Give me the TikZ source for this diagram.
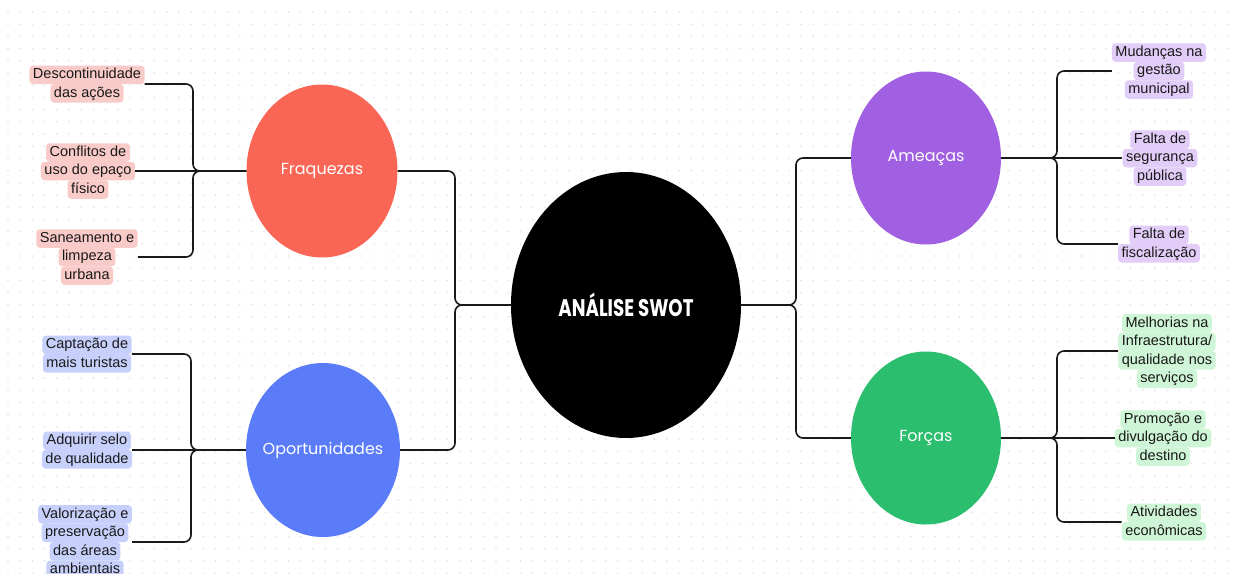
\documentclass[tikz,border=0pt]{standalone}
\usepackage{fontspec}
\setmainfont{Liberation Sans}
\newfontfamily\geofont{Poppins}
\usepackage{graphicx}
\usetikzlibrary{shapes.geometric}
\definecolor{fraqc}{HTML}{F96656}
\definecolor{oporc}{HTML}{5B7CF9}
\definecolor{ameac}{HTML}{A15FE1}
\definecolor{forcc}{HTML}{2CBE6F}
\definecolor{fraql}{HTML}{F9CBC8}
\definecolor{oporl}{HTML}{C6D0FB}
\definecolor{ameal}{HTML}{E2CDF8}
\definecolor{forcl}{HTML}{CFF5D7}
\definecolor{dotc}{HTML}{E2E2E2}
\newcommand{\hl}[1]{\tikz[baseline=(hl.base)]\node[fill=\hlcol,rounded corners=3.5pt,inner xsep=3.5pt,inner ysep=0pt,text height=13pt,text depth=5.5pt](hl){#1};}
\tikzset{
  ell/.style={ellipse,inner sep=0pt,text=white,font=\geofont\fontsize{16}{19}\selectfont},
  leaf/.style={inner sep=0pt,align=center,text=black!90,font=\fontsize{14.5}{18.5}\selectfont,execute at begin node=\def\hlcol{#1}},
  link/.style={line width=1.6pt,black!90,rounded corners=7pt},
  dots/.style={dotc,line width=1.8pt,line cap=round,dash pattern=on 0pt off 12.2pt},
}
\begin{document}
\begin{tikzpicture}[x=1pt,y=-1pt]
  \useasboundingbox (0,0) rectangle (1234,573);
  \fill[white] (0,0) rectangle (1234,573);
  % dotted canvas
  \foreach \r in {0,...,46}{
     \draw[dots] (8,12+\r*12.2) -- (1234,12+\r*12.2);}
  % centre
  \node[ell,fill=black,minimum width=230pt,minimum height=266pt,font=\geofont\bfseries\fontsize{24}{28}\selectfont] (core) at (626,305){\scalebox{0.76}[1]{ANÁLISE SWOT}};
  % quadrants
  \node[ell,fill=fraqc,minimum width=151pt,minimum height=173pt] (fraq) at (322,171){\makebox[0pt]{Fraquezas}};
  \node[ell,fill=oporc,minimum width=154pt,minimum height=174pt] (opor) at (323,450){\makebox[0pt]{Oportunidades}};
  \node[ell,fill=ameac,minimum width=150pt,minimum height=173pt] (amea) at (926,158){\makebox[0pt]{Ameaças}};
  \node[ell,fill=forcc,minimum width=150pt,minimum height=173pt] (forc) at (926,438){\makebox[0pt]{Forças}};
  \coordinate (jl) at (455,305); \coordinate (jr) at (796,305);
  \draw[link] (core.west) -- (jl) |- (fraq.east); \draw[link] (core.west) -- (jl) |- (opor.east);
  \draw[link] (core.east) -- (jr) |- (amea.west); \draw[link] (core.east) -- (jr) |- (forc.west);
  % fraquezas
  \node[leaf=fraql] (w1) at (87,84){\hl{Descontinuidade}\\\hl{das ações}};
  \node[leaf=fraql] (w2) at (88,171){\hl{Conflitos de}\\\hl{uso do epaço}\\\hl{físico}};
  \node[leaf=fraql] (w3) at (87,257){\hl{Saneamento e}\\\hl{limpeza}\\\hl{urbana}};
  \coordinate (jw) at (193,171);
  \draw[link] (fraq.west) -- (jw) |- (w1.east); \draw[link] (fraq.west) -- (w2.east);
  \draw[link] (fraq.west) -- (jw) |- (w3.east);
  % oportunidades
  \node[leaf=oporl] (o1) at (87,354){\hl{Captação de}\\\hl{mais turistas}};
  \node[leaf=oporl] (o2) at (87,450){\hl{Adquirir selo}\\\hl{de qualidade}};
  \node[leaf=oporl] (o3) at (85,542){\hl{Valorização e}\\\hl{preservação}\\\hl{das áreas}\\\hl{ambientais}};
  \coordinate (jo) at (191,450);
  \draw[link] (opor.west) -- (jo) |- (o1.east); \draw[link] (opor.west) -- (o2.east);
  \draw[link] (opor.west) -- (jo) |- (o3.east);
  % ameacas
  \node[leaf=ameal] (t1) at (1159,71){\hl{Mudanças na}\\\hl{gestão}\\\hl{municipal}};
  \node[leaf=ameal] (t2) at (1160,158){\hl{Falta de}\\\hl{segurança}\\\hl{pública}};
  \node[leaf=ameal] (t3) at (1159,244){\hl{Falta de}\\\hl{fiscalização}};
  \coordinate (jt) at (1057,158);
  \draw[link] (amea.east) -- (jt) |- (t1.west); \draw[link] (amea.east) -- (t2.west);
  \draw[link] (amea.east) -- (jt) |- (t3.west);
  % forcas
  \node[leaf=forcl] (s1) at (1167,351){\hl{Melhorias na}\\\hl{Infraestrutura/}\\\hl{qualidade nos}\\\hl{serviços}};
  \node[leaf=forcl] (s2) at (1163,438){\hl{Promoção e}\\\hl{divulgação do}\\\hl{destino}};
  \node[leaf=forcl] (s3) at (1164,522){\hl{Atividades}\\\hl{econômicas}};
  \coordinate (js) at (1057,438);
  \draw[link] (forc.east) -- (js) |- (s1.west); \draw[link] (forc.east) -- (s2.west);
  \draw[link] (forc.east) -- (js) |- (s3.west);
\end{tikzpicture}
\end{document}
